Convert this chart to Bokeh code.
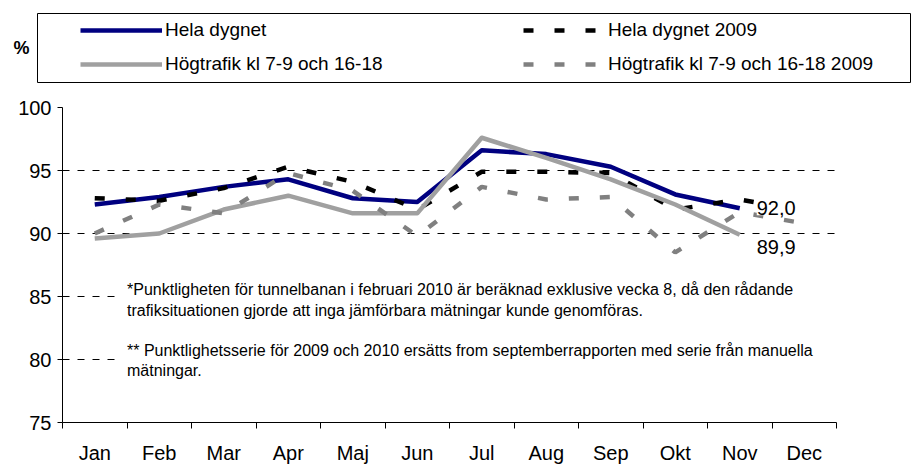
from bokeh.plotting import figure
from bokeh.models import FixedTicker, Legend, LegendItem, Label, BoxAnnotation, Range1d
from bokeh.embed import file_html
from bokeh.resources import INLINE

months = ["Jan", "Feb", "Mar", "Apr", "Maj", "Jun", "Jul", "Aug", "Sep", "Okt", "Nov", "Dec"]
hela_dygnet = [92.3, 92.9, 93.7, 94.3, 92.8, 92.5, 96.6, 96.3, 95.3, 93.1, 92.0]
hogtrafik = [89.6, 90.0, 91.9, 93.0, 91.6, 91.6, 97.6, 96.0, 94.3, 92.3, 89.9]
hela_dygnet_2009 = [92.8, 92.6, 93.6, 95.3, 94.1, 91.9, 94.9, 94.9, 94.8, 91.9, 92.7, 91.8]
hogtrafik_2009 = [90.0, 92.3, 91.6, 94.8, 93.4, 89.8, 93.7, 92.7, 92.9, 88.5, 91.7, 90.8]
y_ticks = [75, 80, 85, 90, 95, 100]
series_names = ["Hela dygnet", "Hela dygnet 2009",
                "Högtrafik kl 7-9 och 16-18", "Högtrafik kl 7-9 och 16-18 2009"]
y_title = "%"
footnote = ("*Punktligheten för tunnelbanan i februari 2010 är beräknad exklusive vecka 8, då den rådande\n"
            "trafiksituationen gjorde att inga jämförbara mätningar kunde genomföras.\n"
            "\n"
            "** Punktlighetsserie för 2009 och 2010 ersätts from septemberrapporten med serie från manuella\n"
            "mätningar.")

FONT = "Liberation Sans"
styles = [
    dict(line_color="#000080", line_width=4.5, line_join="round"),
    dict(line_color="black", line_width=4.5, line_dash="10 21", line_cap="butt"),
    dict(line_color="#a0a0a0", line_width=4.5, line_join="round"),
    dict(line_color="#808080", line_width=4.5, line_dash="10 21", line_cap="butt"),
]

x10 = [i + 0.5 for i in range(len(hela_dygnet))]
x09 = [i + 0.5 for i in range(len(hela_dygnet_2009))]
centers = [i + 0.5 for i in range(len(months))]
series_x = [x10, x09, x10, x09]
series_y = [hela_dygnet, hela_dygnet_2009, hogtrafik, hogtrafik_2009]

# ---------------- legend strip (its frame is the legend box) ----------------
top = figure(width=912, height=90, output_backend="svg", toolbar_location=None,
             x_range=Range1d(0, 1), y_range=Range1d(0, 1),
             x_axis_location=None, y_axis_location="left",
             min_border_left=37, min_border_right=2, min_border_top=13, min_border_bottom=8)
top.grid.visible = False
top.outline_line_color = "black"
top.outline_line_width = 1
ta = top.yaxis[0]
ta.ticker = FixedTicker(ticks=[])
ta.axis_line_color = None
ta.major_tick_line_color = None
ta.minor_tick_line_color = None
ta.axis_label = y_title
ta.axis_label_orientation = "horizontal"
ta.axis_label_standoff = 8
ta.axis_label_text_font = FONT
ta.axis_label_text_font_size = "18px"
ta.axis_label_text_font_style = "bold"
ta.axis_label_text_color = "black"

# legend proxies: same series, outside this strip's visible range
proxies = [top.line(sx, sy, **s) for sx, sy, s in zip(series_x, series_y, styles)]
legend = Legend(items=[LegendItem(label=series_names[0], renderers=[proxies[0]]),
                       LegendItem(label=series_names[2], renderers=[proxies[2]]),
                       LegendItem(label=series_names[1], renderers=[proxies[1]]),
                       LegendItem(label=series_names[3], renderers=[proxies[3]])],
                location=(43, 7), ncols=2, orientation="vertical",
                padding=0, margin=0, spacing=12,
                glyph_width=82, glyph_height=20, label_width=346, label_height=20,
                label_standoff=3, label_text_font=FONT, label_text_font_size="19px",
                label_text_color="black",
                border_line_alpha=0, background_fill_alpha=0)
top.add_layout(legend, "center")

# ---------------- main chart ----------------
p = figure(width=912, height=376, output_backend="svg", toolbar_location=None,
           x_range=Range1d(0, len(months)), y_range=Range1d(y_ticks[0], y_ticks[-1]),
           min_border_left=62, min_border_right=76, min_border_top=17, min_border_bottom=42)
p.outline_line_color = None

p.xgrid.grid_line_color = None
p.ygrid.grid_line_color = "black"
p.ygrid.grid_line_dash = "7 8"
p.ygrid.grid_line_width = 1

ya = p.yaxis[0]
ya.ticker = FixedTicker(ticks=y_ticks)
ya.major_tick_out = 5
ya.major_tick_in = 0
ya.minor_tick_line_color = None
ya.axis_line_color = "black"
ya.major_tick_line_color = "black"
ya.major_label_text_font = FONT
ya.major_label_text_font_size = "20px"
ya.major_label_text_color = "black"
ya.major_label_standoff = 6

xa = p.xaxis[0]
xa.ticker = FixedTicker(ticks=centers, minor_ticks=list(range(len(months) + 1)))
xa.major_label_overrides = {c: m for c, m in zip(centers, months)}
xa.major_tick_line_color = None
xa.major_tick_out = 0
xa.major_tick_in = 0
xa.minor_tick_line_color = "black"
xa.minor_tick_out = 6
xa.minor_tick_in = 0
xa.axis_line_color = "black"
xa.major_label_text_font = FONT
xa.major_label_text_font_size = "20px"
xa.major_label_text_color = "black"
xa.major_label_standoff = 13

p.add_layout(BoxAnnotation(left=0.9, right=len(months), bottom=78.0, top=87.0,
                           fill_color="white", fill_alpha=1.0, line_color=None))

renderers = [p.line(sx, sy, **s) for sx, sy, s in zip(series_x, series_y, styles)]


def fmt(v):
    return f"{v:.1f}".replace(".", ",")


p.add_layout(Label(x=x10[-1], y=hela_dygnet[-1], x_offset=17, y_offset=0, text=fmt(hela_dygnet[-1]),
                   text_font=FONT, text_font_size="20px", text_baseline="middle", text_color="black",
                   background_fill_color="white", background_fill_alpha=1.0))
p.add_layout(Label(x=x10[-1], y=hogtrafik[-1], x_offset=17, y_offset=-12, text=fmt(hogtrafik[-1]),
                   text_font=FONT, text_font_size="20px", text_baseline="middle", text_color="black"))

p.add_layout(Label(x=1.0, y=86.2, text=footnote, text_font=FONT, text_font_size="16px",
                   text_color="black",
                   text_baseline="top", text_align="left", text_line_height=1.19))

open("out.html", "w").write(file_html([top, p], INLINE))
